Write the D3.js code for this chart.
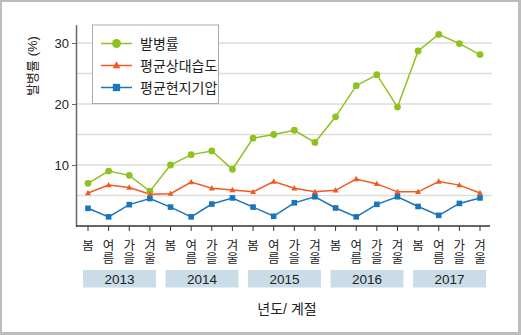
<!DOCTYPE html>
<html><head><meta charset="utf-8">
<script src="https://cdn.jsdelivr.net/npm/d3@7"></script>
<style>body{margin:0;background:#fff}svg{display:block}text{font-family:"Liberation Sans","Noto Sans CJK KR",sans-serif;fill:#222}</style>
</head><body>
<script>
const years = ["2013","2014","2015","2016","2017"];
const seasons = ["봄","여름","가을","겨울"];
const incidence = [7.0,9.0,8.3,5.7, 10.0,11.7,12.3,9.3, 14.4,15.0,15.7,13.7, 17.9,23.0,24.8,19.5, 28.7,31.4,29.9,28.1];
const humidity = [5.4,6.7,6.3,5.2, 5.3,7.2,6.2,5.9, 5.6,7.3,6.2,5.6, 5.85,7.7,6.9,5.6, 5.6,7.3,6.7,5.4];
const pressure = [2.9,1.5,3.5,4.5, 3.1,1.5,3.6,4.6, 3.1,1.6,3.8,4.8, 2.95,1.5,3.55,4.8, 3.2,1.75,3.7,4.6];
const yTicks = [10,20,30];
const gridVals = [5,10,15,20,25,30];
const seriesNames = ["발병률","평균상대습도","평균현지기압"];
const colors = ["#8dc21f","#f15a22","#1b75bc"];

const W=521,H=335;
const svg=d3.select("body").append("svg").attr("width",W).attr("height",H);
svg.append("rect").attr("width",W).attr("height",H).attr("fill","#bdbdbd");
svg.append("rect").attr("x",2).attr("y",2).attr("width",516).attr("height",330).attr("fill","#fff");

const idx=d3.range(years.length*seasons.length);
const x=d3.scalePoint().domain(idx).range([88,480]);
const y=d3.scaleLinear().domain([0,33]).range([226,24.7]);
const xL=76,xR=492;

// grid
svg.append("g").selectAll("line").data(gridVals).join("line")
 .attr("x1",xL).attr("x2",xR).attr("y1",d=>y(d)).attr("y2",d=>y(d))
 .attr("stroke","#dddddd").attr("stroke-width",1.5);

// y axis
const ya=svg.append("g").attr("transform",`translate(${xL},0)`)
 .call(d3.axisLeft(y).tickValues(yTicks).tickSize(4).tickPadding(3).tickSizeOuter(0));
ya.select(".domain").attr("stroke","#666").attr("stroke-width",1.5);
ya.selectAll(".tick line").attr("stroke","#666");
ya.selectAll("text").attr("font-size",13).attr("fill","#333").style("font-family",'"Liberation Sans",sans-serif');

// x axis
svg.append("line").attr("x1",xL).attr("x2",xR-2).attr("y1",226).attr("y2",226).attr("stroke","#333").attr("stroke-width",1.5);
svg.append("g").selectAll("line").data(idx).join("line")
 .attr("x1",d=>x(d)).attr("x2",d=>x(d)).attr("y1",226).attr("y2",231).attr("stroke","#333");

// season labels (one text per character, stacked)
const sg=svg.append("g");
idx.forEach(d=>{
  [...seasons[d%4]].forEach((c,k)=>{
    sg.append("text").attr("x",x(d)).attr("y",249.5+k*13).attr("text-anchor","middle")
      .attr("font-size",12.5).attr("fill","#222").text(c);
  });
});

// year boxes
const yb=svg.append("g").selectAll("g").data(years).join("g");
yb.append("rect").attr("x",(d,i)=>x(i*4)-5).attr("y",270).attr("width",(d,i)=>x(i*4+3)-x(i*4)+11).attr("height",17.5).attr("fill","#c9dce7");
yb.append("text").attr("x",(d,i)=>(x(i*4)+x(i*4+3))/2+0.5).attr("y",284).attr("text-anchor","middle").attr("font-size",13.5).text(d=>d);

// axis titles
svg.append("text").attr("x",287).attr("y",314).attr("text-anchor","middle").attr("font-size",14).text("년도/ 계절");
svg.append("text").attr("transform","translate(37,66) rotate(-90)").attr("text-anchor","middle").attr("font-size",13).text("발병률 (%)");

// lines
const line=d3.line().x((d,i)=>x(i)).y(d=>y(d));
const data=[incidence,humidity,pressure];
data.forEach((vals,k)=>{
  svg.append("path").attr("d",line(vals)).attr("fill","none").attr("stroke",colors[k]).attr("stroke-width",1.5);
});
const marker=(g,k,cx,cy,s)=>{
  if(k===0) g.append("circle").attr("cx",cx).attr("cy",cy).attr("r",3.4*s).attr("fill",colors[k]);
  else if(k===1) g.append("path").attr("d",`M${cx},${cy-3.2*s}L${cx+3*s},${cy+2.2*s}L${cx-3*s},${cy+2.2*s}Z`).attr("fill",colors[k]);
  else g.append("rect").attr("x",cx-2.8*s).attr("y",cy-2.8*s).attr("width",5.6*s).attr("height",5.6*s).attr("fill",colors[k]);
};
data.forEach((vals,k)=>{
  const g=svg.append("g");
  vals.forEach((v,i)=>marker(g,k,x(i),y(v),1));
});

// legend
const lg=svg.append("g");
lg.append("rect").attr("x",92.5).attr("y",25).attr("width",126).attr("height",78.5).attr("fill","#fff").attr("stroke","#aaa").attr("stroke-width",1);
seriesNames.forEach((n,k)=>{
  const yy=43.5+k*22;
  lg.append("line").attr("x1",101).attr("x2",132).attr("y1",yy).attr("y2",yy).attr("stroke",colors[k]).attr("stroke-width",1.5);
  marker(lg,k,116.5,yy,1.3);
  lg.append("text").attr("x",140).attr("y",yy+5).attr("font-size",14).text(n);
});
</script>
</body></html>
